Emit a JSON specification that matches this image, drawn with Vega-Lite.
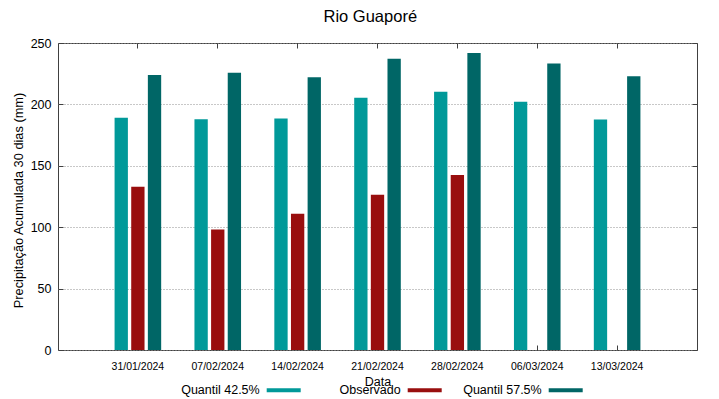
{
  "$schema": "https://vega.github.io/schema/vega-lite/v6.json",
  "width": 639,
  "height": 307,
  "autosize": {"type": "none"},
  "padding": {"left": 58, "top": 43, "right": 22, "bottom": 49},
  "background": "white",
  "config": {
    "font": "Liberation Sans",
    "view": {"stroke": "#404040", "strokeWidth": 1}
  },
  "data": {
    "values": [
      {"date": "31/01/2024", "series": "Quantil 42.5%", "value": 189.2},
      {"date": "31/01/2024", "series": "Observado", "value": 133.0},
      {"date": "31/01/2024", "series": "Quantil 57.5%", "value": 223.9},
      {"date": "07/02/2024", "series": "Quantil 42.5%", "value": 188.0},
      {"date": "07/02/2024", "series": "Observado", "value": 98.2},
      {"date": "07/02/2024", "series": "Quantil 57.5%", "value": 225.8},
      {"date": "14/02/2024", "series": "Quantil 42.5%", "value": 188.6},
      {"date": "14/02/2024", "series": "Observado", "value": 111.0},
      {"date": "14/02/2024", "series": "Quantil 57.5%", "value": 222.2},
      {"date": "21/02/2024", "series": "Quantil 42.5%", "value": 205.4},
      {"date": "21/02/2024", "series": "Observado", "value": 126.5},
      {"date": "21/02/2024", "series": "Quantil 57.5%", "value": 237.2},
      {"date": "28/02/2024", "series": "Quantil 42.5%", "value": 210.3},
      {"date": "28/02/2024", "series": "Observado", "value": 142.5},
      {"date": "28/02/2024", "series": "Quantil 57.5%", "value": 241.8},
      {"date": "06/03/2024", "series": "Quantil 42.5%", "value": 202.2},
      {"date": "06/03/2024", "series": "Quantil 57.5%", "value": 233.4},
      {"date": "13/03/2024", "series": "Quantil 42.5%", "value": 187.8},
      {"date": "13/03/2024", "series": "Quantil 57.5%", "value": 223.0}
    ]
  },
  "layer": [
    {
      "mark": {"type": "bar"},
      "encoding": {
        "x": {
          "field": "date",
          "type": "nominal",
          "sort": ["31/01/2024", "07/02/2024", "14/02/2024", "21/02/2024", "28/02/2024", "06/03/2024", "13/03/2024"],
          "scale": {"paddingInner": 0, "paddingOuter": 0.5},
          "axis": {
            "orient": "bottom",
            "title": "Data",
            "labelAngle": 0,
            "labelFontSize": 10.5,
            "labelColor": "black",
            "labelPadding": 16,
            "labelDx": 4,
            "tickSize": -5,
            "tickColor": "#404040",
            "domain": false,
            "titleFontSize": 12.5,
            "titleFontWeight": "normal",
            "titleColor": "black",
            "titleX": 319.5,
            "titleY": 35,
            "titleAlign": "center",
            "titleBaseline": "alphabetic"
          }
        },
        "xOffset": {
          "field": "series",
          "type": "nominal",
          "sort": ["Quantil 42.5%", "Observado", "Quantil 57.5%"],
          "scale": {"domain": ["Quantil 42.5%", "Observado", "Quantil 57.5%"], "paddingInner": 0.2, "paddingOuter": 1.096}
        },
        "y": {
          "field": "value",
          "type": "quantitative",
          "scale": {"domain": [0, 250], "nice": false},
          "axis": {
            "values": [0, 50, 100, 150, 200, 250],
            "title": "Precipitação Acumulada 30 dias (mm)",
            "grid": true,
            "gridDash": [1, 2],
            "gridColor": "#909090",
            "gridOpacity": 1,
            "tickSize": -5,
            "tickColor": "#404040",
            "domain": false,
            "labelFontSize": 12.5,
            "labelColor": "black",
            "labelPadding": 12,
            "labelDx": -5,
            "titleFontSize": 12.8,
            "titleFontWeight": "normal",
            "titleColor": "black",
            "titleAngle": -90,
            "titleX": -40,
            "titleY": 157,
            "titleAlign": "center",
            "titleBaseline": "middle"
          }
        },
        "color": {
          "field": "series",
          "type": "nominal",
          "sort": ["Quantil 42.5%", "Observado", "Quantil 57.5%"],
          "scale": {
            "domain": ["Quantil 42.5%", "Observado", "Quantil 57.5%"],
            "range": ["#009999", "#990e0e", "#006666"]
          },
          "legend": {
            "orient": "none",
            "legendX": 208.7,
            "legendY": 330,
            "direction": "horizontal",
            "columns": 3,
            "gridAlign": "all",
            "columnPadding": 21,
            "title": null,
            "padding": 0,
            "labelAlign": "right",
            "labelOffset": -41,
            "labelFontSize": 12.5,
            "labelColor": "black",
            "labelLimit": 0,
            "symbolType": "M-1,-0.12H1V0.12H-1Z",
            "symbolSize": 1156,
            "symbolStrokeWidth": 0,
            "symbolOpacity": 1
          }
        }
      }
    },
    {
      "mark": {"type": "bar", "opacity": 0},
      "encoding": {
        "x": {
          "field": "date",
          "type": "nominal",
          "sort": ["31/01/2024", "07/02/2024", "14/02/2024", "21/02/2024", "28/02/2024", "06/03/2024", "13/03/2024"],
          "axis": {
            "orient": "top",
            "title": "Rio Guaporé",
            "titleFontSize": 16.5,
            "titleFontWeight": "normal",
            "titleColor": "black",
            "titleX": 265,
            "titleY": -22,
            "titleAlign": "left",
            "titleBaseline": "alphabetic",
            "labels": false,
            "tickSize": -5,
            "tickColor": "#404040",
            "domain": false,
            "grid": false
          }
        },
        "y": {
          "field": "value",
          "type": "quantitative",
          "axis": {"orient": "right", "title": null, "labels": false, "values": [0, 50, 100, 150, 200, 250], "tickSize": -5, "tickColor": "#404040", "domain": false, "grid": false}
        }
      }
    }
  ],
  "resolve": {"axis": {"x": "independent", "y": "independent"}}
}
